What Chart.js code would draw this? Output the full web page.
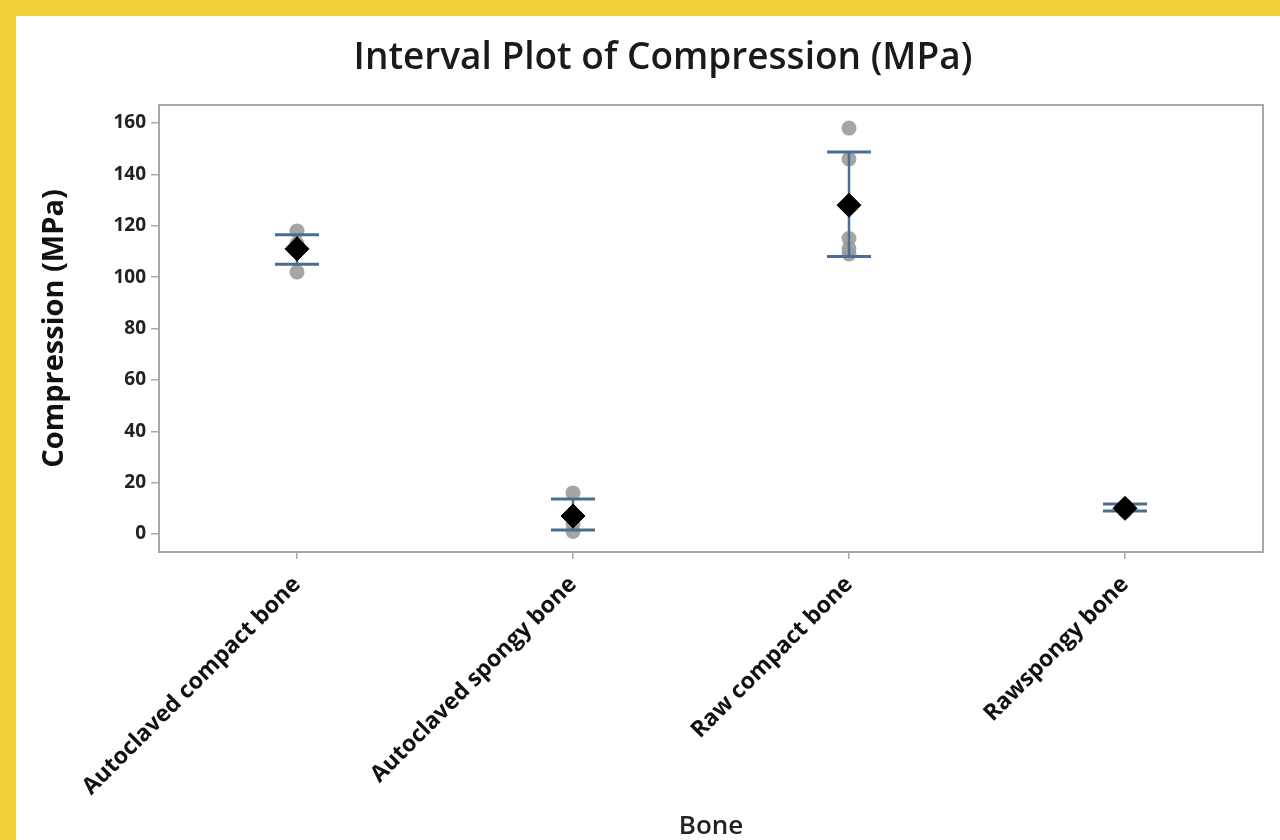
<!DOCTYPE html>
<html>
<head>
    <title>Interval Plot of Compression (MPa)</title>
    <script src="https://cdn.jsdelivr.net/npm/chart.js"></script>
    <style>
        body {
            margin: 0;
            padding: 0;
            background-color: #f2d03b;
            width: 1280px;
            height: 840px;
            overflow: hidden;
        }
        .panel {
            position: absolute;
            left: 16px;
            top: 16px;
            width: 1264px;
            height: 824px;
            background: white;
        }
    </style>
</head>
<body>
    <div class="panel">
        <canvas id="chart" width="1264" height="824"></canvas>
    </div>

<script>
        // Data
        const categories = ['Autoclaved compact bone', 'Autoclaved spongy bone', 'Raw compact bone', 'Rawspongy bone'];
        const observations = [
            [102, 113, 118],
            [1, 4, 16],
            [158, 146, 115, 111, 109],
            [9, 10, 11]
        ];
        const means = [111, 7, 128, 10];
        const ciLow = [105, 1.6, 108, 9];
        const ciHigh = [116.5, 13.6, 148.7, 11.7];
        const yTicks = [0, 20, 40, 60, 80, 100, 120, 140, 160];

        const dotPoints = [];
        categories.forEach((c, i) => {
            observations[i].forEach(v => dotPoints.push({ x: c, y: v }));
        });

        // Interval bars go between the grey dots and the mean symbols
        const intervalPlugin = {
            id: 'intervals',
            afterDatasetDraw(chart, args) {
                if (args.index !== 0) return;
                const ctx = chart.ctx;
                const x = chart.scales.x, y = chart.scales.y;
                ctx.save();
                ctx.strokeStyle = '#4a6d90';
                categories.forEach((c, i) => {
                    const px = x.getPixelForValue(i);
                    const top = y.getPixelForValue(ciHigh[i]);
                    const bot = y.getPixelForValue(ciLow[i]);
                    ctx.lineWidth = 2.5;
                    ctx.beginPath();
                    ctx.moveTo(px, top);
                    ctx.lineTo(px, bot);
                    ctx.stroke();
                    ctx.lineWidth = 3;
                    ctx.beginPath();
                    ctx.moveTo(px - 22, top);
                    ctx.lineTo(px + 22, top);
                    ctx.moveTo(px - 22, bot);
                    ctx.lineTo(px + 22, bot);
                    ctx.stroke();
                });
                ctx.restore();
            },
            afterDraw(chart) {
                const a = chart.chartArea;
                const ctx = chart.ctx;
                ctx.save();
                ctx.strokeStyle = '#a8a8a8';
                ctx.lineWidth = 2;
                ctx.strokeRect(a.left, a.top, a.right - a.left, a.bottom - a.top);
                ctx.restore();
            }
        };

        const ctx = document.getElementById('chart').getContext('2d');
        new Chart(ctx, {
            type: 'line',
            data: {
                labels: categories,
                datasets: [
                    {
                        label: 'Observations',
                        data: dotPoints,
                        showLine: false,
                        pointStyle: 'circle',
                        pointRadius: 7.5,
                        pointBackgroundColor: 'rgba(155, 155, 155, 0.9)',
                        pointBorderWidth: 0,
                        order: 2
                    },
                    {
                        label: 'Mean',
                        data: means,
                        showLine: false,
                        pointStyle: 'rectRot',
                        pointRadius: 12,
                        pointBackgroundColor: '#000000',
                        pointBorderColor: '#000000',
                        pointBorderWidth: 1,
                        order: 1
                    }
                ]
            },
            options: {
                responsive: false,
                animation: false,
                layout: {
                    padding: { left: 30, right: 0, top: 0, bottom: 0 }
                },
                plugins: {
                    legend: { display: false },
                    tooltip: { enabled: false },
                    title: {
                        display: true,
                        text: 'Interval Plot of Compression (MPa)',
                        color: '#1a1a1a',
                        font: { family: 'Open Sans', size: 37, weight: '600', lineHeight: 1.2 },
                        padding: { top: 20, bottom: 24.6 }
                    }
                },
                scales: {
                    x: {
                        offset: true,
                        afterFit: (scale) => { scale.height = 288; },
                        grid: {
                            drawOnChartArea: false,
                            drawTicks: true,
                            tickLength: 7,
                            color: '#a8a8a8',
                            lineWidth: 1.5
                        },
                        border: { display: false },
                        ticks: {
                            minRotation: 45,
                            maxRotation: 45,
                            padding: 12,
                            color: '#111',
                            font: { family: 'Open Sans', size: 23, weight: '700' }
                        },
                        title: {
                            display: true,
                            text: 'Bone',
                            color: '#222',
                            font: { family: 'Open Sans', size: 26, weight: '600', lineHeight: 1 },
                            padding: { top: 0, bottom: 0 }
                        }
                    },
                    y: {
                        min: -7,
                        max: 167,
                        afterFit: (scale) => { scale.width = 113; },
                        afterBuildTicks: (scale) => {
                            scale.ticks = yTicks.map(v => ({ value: v }));
                        },
                        grid: {
                            drawOnChartArea: false,
                            drawTicks: true,
                            tickLength: 8,
                            color: '#a8a8a8',
                            lineWidth: 1.5
                        },
                        border: { display: false },
                        ticks: {
                            padding: 5,
                            color: '#222',
                            font: { family: 'Open Sans', size: 19, weight: '700' }
                        },
                        title: {
                            display: true,
                            text: 'Compression (MPa)',
                            color: '#111',
                            font: { family: 'Open Sans', size: 29, weight: '700', lineHeight: 0.6 },
                            padding: { top: 0, bottom: 0 }
                        }
                    },
                    // empty right-hand strip so the plot box ends where the original does
                    yRight: {
                        position: 'right',
                        display: true,
                        afterFit: (scale) => { scale.width = 17; },
                        grid: { display: false },
                        border: { display: false },
                        ticks: { display: false }
                    }
                }
            },
            plugins: [intervalPlugin]
        });
    </script>
</body>
</html>
